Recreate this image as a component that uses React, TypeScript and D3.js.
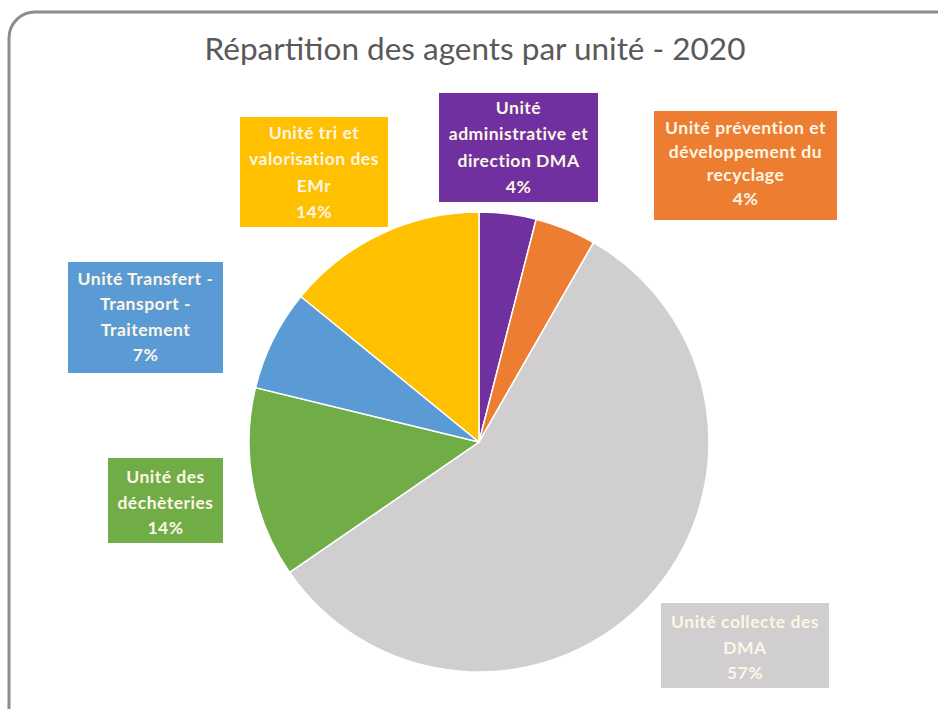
import React, { useEffect, useRef } from 'react';
import * as d3 from 'd3';

// slices clockwise from 12 o'clock
const units = [
  'Unité administrative et direction DMA',
  'Unité prévention et développement du recyclage',
  'Unité collecte des DMA',
  'Unité des déchèteries',
  'Unité Transfert - Transport - Traitement',
  'Unité tri et valorisation des EMr',
];
const shares = [4.0, 4.3, 57.1, 13.4, 7.1, 14.1];
const pctLabels = ['4%', '4%', '57%', '14%', '7%', '14%'];
const colors = ['#7030a0', '#ed7d31', '#d0cece', '#70ad47', '#5b9bd5', '#ffc000'];

// label box text lines (as wrapped in the original)
const labelLines = [
  ['Unité', 'administrative et', 'direction DMA'],
  ['Unité prévention et', 'développement du', 'recyclage'],
  ['Unité collecte des', 'DMA'],
  ['Unité des', 'déchèteries'],
  ['Unité Transfert -', 'Transport -', 'Traitement'],
  ['Unité tri et', 'valorisation des', 'EMr'],
];

// box placement: [x, y, w, h, first line y, line step]
const labelBoxes = [
  [439, 93, 159, 109, 108, 26.3],
  [654, 111, 183, 109, 128, 23.5],
  [661, 603, 168, 85, 622, 25.5],
  [108, 458, 115, 85, 477, 25.5],
  [68, 262, 155, 111, 279, 25.3],
  [240, 117, 148, 110, 133, 26.3],
];

const W = 938;
const H = 709;

const App: React.FC = () => {
  const ref = useRef<SVGSVGElement>(null);

  useEffect(() => {
    if (!ref.current) return;
    const svg = d3.select(ref.current);
    svg.selectAll('*').remove();

    svg.append('rect')
      .attr('width', W).attr('height', H).attr('fill', '#fff');

    // outer frame
    svg.append('rect')
      .attr('x', 9).attr('y', 12)
      .attr('width', 960).attr('height', 730)
      .attr('rx', 26)
      .attr('fill', 'none')
      .attr('stroke', '#8c8c8c')
      .attr('stroke-width', 3);

    svg.append('text')
      .attr('x', 475).attr('y', 60)
      .attr('text-anchor', 'middle')
      .attr('font-family', 'Lato, sans-serif')
      .attr('font-size', 31.5)
      .attr('fill', '#595959')
      .text('Répartition des agents par unité - 2020');

    const cx = 479, cy = 442, r = 230;
    const pie = d3.pie<number>().sort(null).value(d => d);
    const arc = d3.arc<d3.PieArcDatum<number>>().innerRadius(0).outerRadius(r);
    const g = svg.append('g').attr('transform', `translate(${cx},${cy})`);
    g.selectAll('path')
      .data(pie(shares))
      .join('path')
      .attr('d', arc)
      .attr('fill', (d, i) => colors[i])
      .attr('stroke', '#fff')
      .attr('stroke-width', 1.5);

    units.forEach((u, i) => {
      const [x, y, w, h, ty, step] = labelBoxes[i];
      const lg = svg.append('g').attr('class', 'label').attr('data-unit', u);
      lg.append('rect')
        .attr('x', x).attr('y', y).attr('width', w).attr('height', h)
        .attr('fill', colors[i]);
      const lines = [...labelLines[i], pctLabels[i]];
      lines.forEach((t, j) => {
        lg.append('text')
          .attr('x', x + w / 2)
          .attr('y', ty + j * step)
          .attr('dy', '0.35em')
          .attr('text-anchor', 'middle')
          .attr('font-family', 'Lato, sans-serif')
          .attr('font-weight', 'bold')
          .attr('font-size', 17.5)
          .attr('letter-spacing', 0.5)
          .attr('fill', '#fdf6e6')
          .text(t);
      });
    });
  }, []);

  return (
    <svg
      ref={ref}
      width={W}
      height={H}
      style={{ position: 'absolute', left: 0, top: 0, display: 'block' }}
    />
  );
};

export default App;
